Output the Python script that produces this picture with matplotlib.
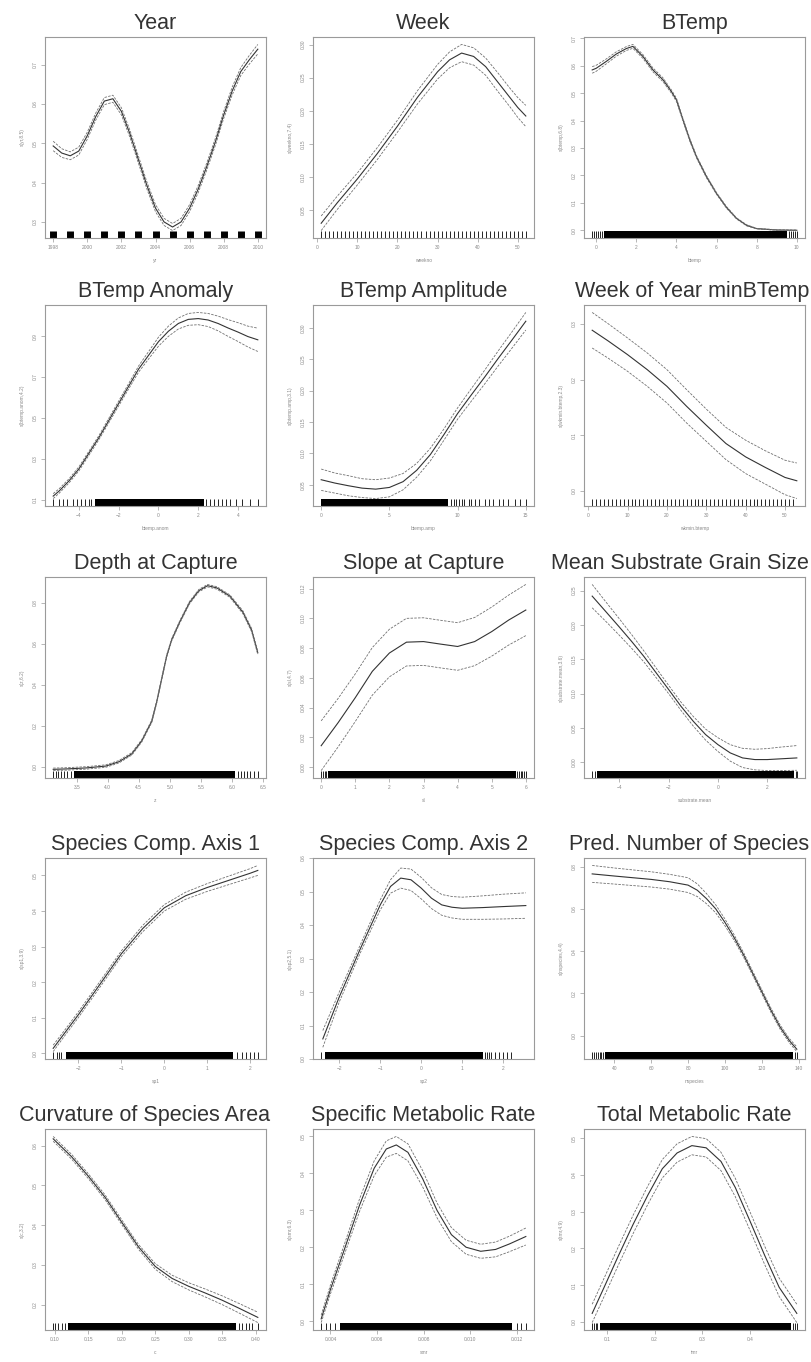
import numpy as np
import matplotlib.pyplot as plt

plt.rcParams['font.family'] = ['Liberation Sans', 'DejaVu Sans']

# ---- Year
year_x = [1998, 1998.5, 1999, 1999.5, 2000, 2000.5, 2001, 2001.5, 2002, 2002.5, 2003, 2003.5,
          2004, 2004.5, 2005, 2005.5, 2006, 2006.5, 2007, 2007.5, 2008, 2008.5, 2009, 2009.5, 2010]
year_fit = [0.493, 0.475, 0.468, 0.480, 0.519, 0.568, 0.607, 0.613, 0.581, 0.524, 0.458, 0.392,
            0.335, 0.300, 0.287, 0.300, 0.335, 0.383, 0.440, 0.502, 0.572, 0.633, 0.682, 0.712, 0.739]
year_se = [0.012, 0.011, 0.010, 0.010, 0.009, 0.009, 0.009, 0.009, 0.009, 0.009, 0.009, 0.009,
           0.009, 0.009, 0.009, 0.009, 0.009, 0.009, 0.009, 0.009, 0.009, 0.010, 0.010, 0.011, 0.012]
year_rug = [1998, 1999, 2000, 2001, 2002, 2003, 2004, 2005, 2006, 2007, 2008, 2009, 2010]

# ---- Week
week_x = [1, 5, 10, 15, 20, 25, 30, 33, 36, 39, 42, 45, 48, 50, 52]
week_fit = [0.0305, 0.0613, 0.0972, 0.1357, 0.1768, 0.2204, 0.2589, 0.2769, 0.2871, 0.2820,
            0.2666, 0.2435, 0.2204, 0.2050, 0.1922]
week_se = [0.011, 0.010, 0.009, 0.009, 0.009, 0.010, 0.011, 0.012, 0.013, 0.013, 0.013, 0.014,
           0.014, 0.015, 0.016]
week_rug = list(range(1, 53))

# ---- BTemp
bt_x = [-0.2, 0, 0.5, 1, 1.5, 1.83, 2.33, 2.83, 3.33, 3.75, 4, 4.33, 4.67, 5, 5.5, 6, 6.5, 7,
        7.5, 8, 9, 10]
bt_fit = [0.585, 0.591, 0.616, 0.643, 0.663, 0.671, 0.634, 0.585, 0.549, 0.506, 0.476, 0.402,
          0.329, 0.268, 0.195, 0.134, 0.083, 0.043, 0.018, 0.006, 0.001, 0.0]
bt_se = [0.012, 0.011, 0.009, 0.008, 0.007, 0.007, 0.007, 0.007, 0.007, 0.006, 0.006, 0.005,
         0.005, 0.004, 0.004, 0.003, 0.003, 0.002, 0.002, 0.001, 0.001, 0.001]
bt_rug = [-0.2, -0.1, 0.0, 0.1, 0.2, 0.3, 9.6, 9.7, 9.8, 9.9, 10.0]
bt_band = (0.4, 9.5)

# ---- BTemp Anomaly
ba_x = [-5.3, -5, -4.5, -4, -3.5, -3, -2.5, -2, -1.5, -1, -0.5, 0, 0.5, 1, 1.5, 2, 2.5, 3, 3.5,
        4, 4.5, 5]
ba_fit = [0.117, 0.142, 0.192, 0.251, 0.327, 0.403, 0.487, 0.571, 0.655, 0.739, 0.806, 0.873,
          0.924, 0.962, 0.982, 0.986, 0.979, 0.962, 0.940, 0.920, 0.898, 0.882]
ba_se = [0.012, 0.011, 0.010, 0.010, 0.010, 0.010, 0.011, 0.012, 0.013, 0.015, 0.018, 0.022,
         0.025, 0.027, 0.029, 0.030, 0.032, 0.036, 0.041, 0.046, 0.051, 0.057]
ba_rug = [-5.3, -5.0, -4.8, -4.6, -4.3, -4.1, -3.9, -3.7, -3.5, -3.4, 2.4, 2.6, 2.8, 3.0, 3.2,
          3.4, 3.6, 3.9, 4.2, 4.6, 5.0]
ba_band = (-3.2, 2.3)

# ---- BTemp Amplitude
bamp_x = [0, 1, 2, 3, 4, 5, 6, 7, 8, 9, 10, 11, 12, 13, 14, 15]
bamp_fit = [0.058, 0.0527, 0.0484, 0.0446, 0.043, 0.0457, 0.0549, 0.073, 0.098, 0.130, 0.1635,
            0.193, 0.222, 0.252, 0.281, 0.3105]
bamp_se = [0.017, 0.016, 0.016, 0.015, 0.015, 0.015, 0.013, 0.011, 0.010, 0.009, 0.009, 0.010,
           0.011, 0.012, 0.013, 0.014]
bamp_rug = [9.5, 9.7, 9.9, 10.1, 10.3, 10.5, 10.8, 11.0, 11.3, 11.6, 12.0, 12.3, 12.6, 13.0,
            13.3, 13.7, 14.2, 14.6, 15.0]
bamp_band = (0.0, 9.3)

# ---- Week of Year minBTemp
wmin_x = [1, 5, 10, 15, 20, 25, 30, 35, 40, 45, 50, 53]
wmin_fit = [0.289, 0.270, 0.245, 0.218, 0.188, 0.152, 0.118, 0.085, 0.061, 0.042, 0.024, 0.018]
wmin_se = [0.032, 0.031, 0.030, 0.030, 0.030, 0.030, 0.029, 0.029, 0.030, 0.030, 0.031, 0.032]
wmin_rug = list(range(1, 53))

# ---- Depth at Capture
dep_x = [3.12, 3.34, 3.66, 3.97, 4.18, 4.39, 4.55, 4.71, 4.79, 4.87, 4.95, 5.03, 5.16, 5.32,
         5.47, 5.61, 5.76, 5.97, 6.18, 6.32, 6.42]
dep_fit = [-0.013, -0.011, -0.006, 0.003, 0.024, 0.063, 0.127, 0.222, 0.317, 0.429, 0.540,
           0.619, 0.706, 0.802, 0.860, 0.884, 0.873, 0.833, 0.754, 0.667, 0.556]
dep_se = [0.006] * 18 + [0.007, 0.008, 0.009]
dep_rug = [3.12, 3.16, 3.2, 3.25, 3.3, 3.35, 3.4, 6.1, 6.15, 6.2, 6.25, 6.3, 6.36, 6.42]
dep_band = (3.45, 6.05)

# ---- Slope at Capture
slo_x = [0, 0.5, 1, 1.5, 2, 2.5, 3, 3.5, 4, 4.5, 5, 5.5, 6]
slo_fit = [0.0144, 0.030, 0.0467, 0.0644, 0.0767, 0.084, 0.0844, 0.0827, 0.0811, 0.0844,
           0.0911, 0.0989, 0.1056]
slo_se = [0.0167, 0.0163, 0.016, 0.016, 0.016, 0.016, 0.016, 0.016, 0.016, 0.0162, 0.0165,
          0.0168, 0.0172]
slo_rug = [0.0, 0.05, 0.1, 0.15, 5.75, 5.8, 5.85, 5.9, 5.95, 6.0]
slo_band = (0.2, 5.7)

# ---- Mean Substrate Grain Size
sub_x = [-5.1, -4.5, -4, -3.5, -3, -2.5, -2, -1.5, -1, -0.5, 0, 0.5, 1, 1.5, 2, 2.5, 3.2]
sub_fit = [0.242, 0.2175, 0.197, 0.176, 0.154, 0.130, 0.106, 0.0816, 0.0597, 0.0403, 0.0257,
           0.0136, 0.0063, 0.0039, 0.0039, 0.0049, 0.0063]
sub_se = [0.017, 0.014, 0.012, 0.010, 0.008, 0.007, 0.006, 0.006, 0.007, 0.008, 0.010, 0.012,
          0.014, 0.015, 0.016, 0.017, 0.018]
sub_rug = [-5.1, -5.0, 3.15, 3.2]
sub_band = (-4.9, 3.1)

# ---- Species Comp. Axis 1
sp1_x = [-2.59, -2.36, -2, -1.5, -1, -0.5, 0, 0.5, 1, 1.5, 2, 2.18]
sp1_fit = [0.014, 0.051, 0.109, 0.194, 0.280, 0.351, 0.409, 0.443, 0.466, 0.486, 0.506, 0.514]
sp1_se = [0.009, 0.008, 0.008, 0.008, 0.008, 0.009, 0.009, 0.010, 0.011, 0.012, 0.013, 0.014]
sp1_rug = [-2.59, -2.5, -2.45, -2.4, 1.7, 1.8, 1.9, 2.0, 2.1, 2.18]
sp1_band = (-2.3, 1.6)

# ---- Species Comp. Axis 2
sp2_x = [-2.4, -2, -1.5, -1, -0.75, -0.5, -0.25, 0, 0.25, 0.5, 0.75, 1, 1.5, 2, 2.55]
sp2_fit = [0.060, 0.185, 0.325, 0.460, 0.515, 0.540, 0.535, 0.510, 0.480, 0.460, 0.453, 0.450,
           0.452, 0.455, 0.458]
sp2_se = [0.025, 0.015, 0.012, 0.015, 0.020, 0.030, 0.032, 0.032, 0.031, 0.031, 0.032, 0.033,
          0.035, 0.037, 0.038]
sp2_rug = [-2.44, 1.55, 1.6, 1.65, 1.7, 1.8, 1.9, 2.0, 2.1, 2.2]
sp2_band = (-2.35, 1.5)

# ---- Pred. Number of Species
nsp_x = [28, 40, 50, 60, 70, 80, 85, 90, 95, 100, 105, 110, 115, 120, 125, 130, 135, 139]
nsp_fit = [0.765, 0.755, 0.747, 0.739, 0.728, 0.712, 0.688, 0.648, 0.600, 0.536, 0.464, 0.384,
           0.296, 0.208, 0.120, 0.040, -0.024, -0.064]
nsp_se = [0.040, 0.038, 0.037, 0.036, 0.035, 0.035, 0.030, 0.024, 0.019, 0.016, 0.013, 0.011,
          0.010, 0.010, 0.010, 0.010, 0.010, 0.011]
nsp_rug = [28, 29, 30, 31, 32, 33, 34, 138, 139]
nsp_band = (35, 137)

# ---- Curvature of Species Area
cur_x = [0.0975, 0.125, 0.15, 0.175, 0.2, 0.225, 0.25, 0.275, 0.3, 0.325, 0.35, 0.375, 0.403]
cur_fit = [0.617, 0.572, 0.523, 0.470, 0.407, 0.345, 0.296, 0.266, 0.246, 0.229, 0.211, 0.191,
           0.168]
cur_se = [0.006, 0.006, 0.006, 0.006, 0.006, 0.006, 0.007, 0.008, 0.009, 0.010, 0.011, 0.012,
          0.013]
cur_rug = [0.0975, 0.1, 0.105, 0.11, 0.115, 0.375, 0.38, 0.385, 0.39, 0.395, 0.403]
cur_band = (0.12, 0.37)

# ---- Specific Metabolic Rate
smr_x = [0.0036, 0.004, 0.00463, 0.00525, 0.00588, 0.0064, 0.00683, 0.00733, 0.00796, 0.00858,
         0.0092, 0.00983, 0.01046, 0.0111, 0.0117, 0.0124]
smr_fit = [0.006, 0.086, 0.200, 0.314, 0.414, 0.466, 0.477, 0.457, 0.386, 0.300, 0.234, 0.200,
           0.189, 0.194, 0.209, 0.229]
smr_se = [0.010, 0.012, 0.014, 0.017, 0.020, 0.022, 0.023, 0.023, 0.022, 0.020, 0.019, 0.019,
          0.019, 0.020, 0.021, 0.023]
smr_rug = [0.0036, 0.0038, 0.0040, 0.0042, 0.0120, 0.0122, 0.0124]
smr_band = (0.0044, 0.0118)

# ---- Total Metabolic Rate
tmr_x = [0.069, 0.094, 0.124, 0.155, 0.186, 0.216, 0.247, 0.278, 0.308, 0.339, 0.369, 0.4,
         0.431, 0.461, 0.498]
tmr_fit = [0.023, 0.094, 0.180, 0.266, 0.346, 0.417, 0.460, 0.480, 0.474, 0.437, 0.366, 0.274,
           0.180, 0.094, 0.023]
tmr_se = [0.025] * 15
tmr_rug = [0.069, 0.072, 0.076, 0.08, 0.49, 0.494, 0.498]
tmr_band = (0.085, 0.485)

titles = ["Year", "Week", "BTemp",
          "BTemp Anomaly", "BTemp Amplitude", "Week of Year minBTemp",
          "Depth at Capture", "Slope at Capture", "Mean Substrate Grain Size",
          "Species Comp. Axis 1", "Species Comp. Axis 2", "Pred. Number of Species",
          "Curvature of Species Area", "Specific Metabolic Rate", "Total Metabolic Rate"]
xlabels = ["yr", "weekno", "btemp", "btemp.anom", "btemp.amp", "wkmin.btemp", "z", "sl",
           "substrate.mean", "sp1", "sp2", "nspecies", "c", "smr", "tmr"]
ylabels = ["s(yr,8.5)", "s(weekno,7.4)", "s(btemp,6.8)", "s(btemp.anom,4.2)",
           "s(btemp.amp,3.1)", "s(wkmin.btemp,2.3)", "s(z,6.2)", "s(sl,4.7)",
           "s(substrate.mean,3.6)", "s(sp1,3.9)", "s(sp2,5.1)", "s(nspecies,4.4)", "s(c,3.2)",
           "s(smr,6.3)", "s(tmr,4.9)"]

panels = [
    (year_x, year_fit, year_se, year_rug, None, [1998, 2000, 2002, 2004, 2006, 2008, 2010],
     [0.3, 0.4, 0.5, 0.6, 0.7]),
    (week_x, week_fit, week_se, week_rug, None, [0, 10, 20, 30, 40, 50],
     [0.05, 0.10, 0.15, 0.20, 0.25, 0.30]),
    (bt_x, bt_fit, bt_se, bt_rug, bt_band, [0, 2, 4, 6, 8, 10],
     [0.0, 0.1, 0.2, 0.3, 0.4, 0.5, 0.6, 0.7]),
    (ba_x, ba_fit, ba_se, ba_rug, ba_band, [-4, -2, 0, 2, 4], [0.1, 0.3, 0.5, 0.7, 0.9]),
    (bamp_x, bamp_fit, bamp_se, bamp_rug, bamp_band, [0, 5, 10, 15],
     [0.05, 0.10, 0.15, 0.20, 0.25, 0.30]),
    (wmin_x, wmin_fit, wmin_se, wmin_rug, None, [0, 10, 20, 30, 40, 50], [0.0, 0.1, 0.2, 0.3]),
    (dep_x, dep_fit, dep_se, dep_rug, dep_band, [3.5, 4.0, 4.5, 5.0, 5.5, 6.0, 6.5],
     [0.0, 0.2, 0.4, 0.6, 0.8]),
    (slo_x, slo_fit, slo_se, slo_rug, slo_band, [0, 1, 2, 3, 4, 5, 6],
     [0.0, 0.02, 0.04, 0.06, 0.08, 0.10, 0.12]),
    (sub_x, sub_fit, sub_se, sub_rug, sub_band, [-4, -2, 0, 2],
     [0.0, 0.05, 0.10, 0.15, 0.20, 0.25]),
    (sp1_x, sp1_fit, sp1_se, sp1_rug, sp1_band, [-2, -1, 0, 1, 2],
     [0.0, 0.1, 0.2, 0.3, 0.4, 0.5]),
    (sp2_x, sp2_fit, sp2_se, sp2_rug, sp2_band, [-2, -1, 0, 1, 2],
     [0.0, 0.1, 0.2, 0.3, 0.4, 0.5, 0.6]),
    (nsp_x, nsp_fit, nsp_se, nsp_rug, nsp_band, [40, 60, 80, 100, 120, 140],
     [0.0, 0.2, 0.4, 0.6, 0.8]),
    (cur_x, cur_fit, cur_se, cur_rug, cur_band, [0.10, 0.15, 0.20, 0.25, 0.30, 0.35, 0.40],
     [0.2, 0.3, 0.4, 0.5, 0.6]),
    (smr_x, smr_fit, smr_se, smr_rug, smr_band, [0.004, 0.006, 0.008, 0.010, 0.012],
     [0.0, 0.1, 0.2, 0.3, 0.4, 0.5]),
    (tmr_x, tmr_fit, tmr_se, tmr_rug, tmr_band, [0.1, 0.2, 0.3, 0.4],
     [0.0, 0.1, 0.2, 0.3, 0.4, 0.5]),
]

W, H = 811, 1362
col_left = [45, 313, 584]
tile_right = [270, 540, 809]   # each panel was its own image, titles stay inside it
row_top = [37, 305, 577, 858, 1129]
aw, ah = 221, 201

fig = plt.figure(figsize=(W / 100, H / 100), dpi=100)
frame = '#9a9a9a'
title_objs = []

for i, (x, fit, se, rug, band, xt, yt) in enumerate(panels):
    r, c = divmod(i, 3)
    ax = fig.add_axes([col_left[c] / W, 1 - (row_top[r] + ah) / H, aw / W, ah / H])
    x = np.asarray(x, float)
    fit = np.asarray(fit, float)
    se = np.asarray(se, float)

    ax.plot(x, fit, color='#333333', lw=0.8)
    ax.plot(x, fit + se, color='#707070', lw=0.6, ls=(0, (3, 1.5)))
    ax.plot(x, fit - se, color='#707070', lw=0.6, ls=(0, (3, 1.5)))

    lo = (fit - se).min()
    hi = (fit + se).max()
    pad = (hi - lo) * 0.04
    ax.set_ylim(lo - pad, hi + pad)
    xs = np.concatenate([x, np.asarray(rug, float)])
    x0, x1 = xs.min(), xs.max()
    ax.set_xlim(x0 - 0.04 * (x1 - x0), x1 + 0.04 * (x1 - x0))

    tr = ax.get_xaxis_transform()
    lw = 5 if i == 0 else 0.6
    ax.vlines(rug, 0, 0.035, transform=tr, color='black', lw=lw)
    if band is not None:
        ax.axvspan(band[0], band[1], 0, 0.035, color='black', lw=0)

    ax.set_xticks(xt)
    ax.set_yticks(yt)
    ax.tick_params(labelsize=3.5, labelcolor='#8a8a8a', color=frame, length=3, width=0.5,
                   pad=2)
    for lab in ax.get_yticklabels():
        lab.set_rotation(90)
        lab.set_va('center')
    for s in ax.spines.values():
        s.set_color(frame)
        s.set_linewidth(0.8)
    ax.set_xlabel(xlabels[i], fontsize=3.5, color='#8a8a8a', labelpad=6)
    ax.set_ylabel(ylabels[i], fontsize=3.5, color='#8a8a8a', labelpad=6)
    t = ax.set_title(titles[i], fontsize=15.5, color='#333333', pad=5.5)
    title_objs.append((t, ax, c))

# push titles that run past their tile back to the left
fig.canvas.draw()
rend = fig.canvas.get_renderer()
for t, ax, c in title_objs:
    bb = t.get_window_extent(rend)
    over = bb.x1 - tile_right[c]
    if over > 0:
        ax_bb = ax.get_window_extent(rend)
        cx = (bb.x0 + bb.x1) / 2 - over
        t.set_x((cx - ax_bb.x0) / ax_bb.width)

fig.savefig('out.png', dpi=100)
